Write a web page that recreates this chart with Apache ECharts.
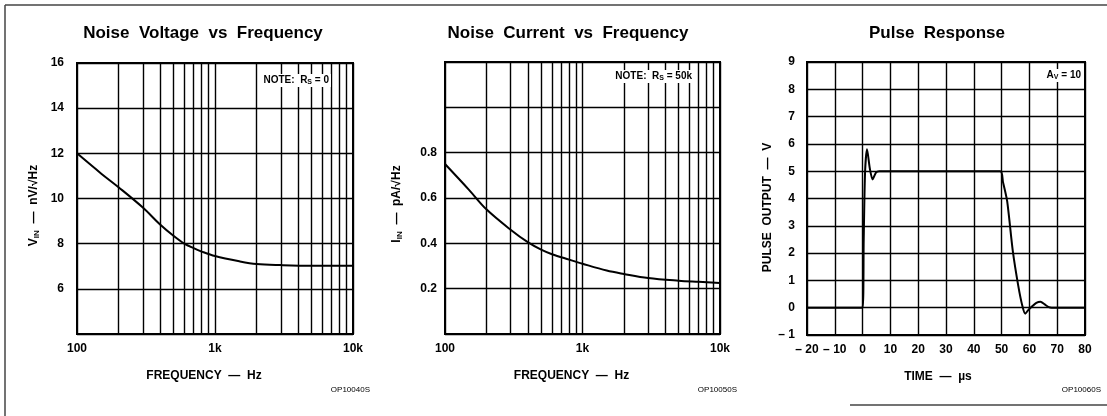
<!DOCTYPE html>
<html><head><meta charset="utf-8">
<script src="https://cdn.jsdelivr.net/npm/echarts@6/dist/echarts.min.js"></script>
<style>html,body{margin:0;padding:0;background:#fff}#c{width:1107px;height:416px}</style>
</head><body><div id="c"></div><script>
// ---- data ----
const freqV = [100, 150, 200, 300, 400, 500, 600, 700, 800, 1000, 1500, 2000, 3000, 5000, 10000];
const noiseV = [12.0, 11.1, 10.5, 9.6, 8.85, 8.35, 8.0, 7.8, 7.65, 7.45, 7.22, 7.1, 7.05, 7.02, 7.02];
const freqI = [100, 150, 200, 300, 400, 500, 600, 800, 1000, 1500, 2000, 3000, 5000, 7000, 10000];
const noiseI = [0.75, 0.635, 0.55, 0.46, 0.405, 0.372, 0.352, 0.328, 0.31, 0.28, 0.265, 0.247, 0.235, 0.23, 0.225];
const pulseT = [-20, 0, 0.4, 0.9, 1.6, 2.6, 3.6, 4.8, 6, 49.5, 50.5, 52, 54, 56, 57.5, 58.5, 59.5, 61, 62.5, 64, 65.5, 67, 68, 80];
const pulseV = [0, 0, 2.5, 5.0, 5.8, 5.1, 4.7, 4.95, 5.0, 5.0, 4.6, 3.9, 2.1, 0.8, 0.05, -0.22, -0.1, 0.05, 0.18, 0.22, 0.12, 0.02, 0, 0];
const minorFreqs = [200, 300, 400, 500, 600, 700, 800, 900, 2000, 3000, 4000, 5000, 6000, 7000, 8000, 9000];
const freqTickLabels = {100: '100', 1000: '1k', 10000: '10k'};
const titles = ['Noise  Voltage  vs  Frequency', 'Noise  Current  vs  Frequency', 'Pulse  Response'];
const codes = ['OP10040S', 'OP10050S', 'OP10060S'];

const FONT = 'Liberation Sans';
const zip = (a, b) => a.map((v, i) => [v, b[i]]);
const gridLine = {show: true, lineStyle: {color: '#000', width: 1.4}};
const labelStyle = {color: '#000', fontFamily: FONT, fontWeight: 'bold', fontSize: 12};
const nameStyle = {color: '#000', fontFamily: FONT, fontWeight: 'bold', fontSize: 12};
const subRich = {
  n: {fontFamily: FONT, fontWeight: 'bold', fontSize: 12, color: '#000'},
  s: {fontFamily: FONT, fontWeight: 'bold', fontSize: 8, color: '#000', padding: [6, 0, 0, 0]}
};
const noteRich = {
  n: {fontFamily: FONT, fontWeight: 'bold', fontSize: 10, color: '#000'},
  s: {fontFamily: FONT, fontWeight: 'bold', fontSize: 7, color: '#000', padding: [5, 0, 0, 0]}
};
const minorMarks = {
  silent: true, symbol: 'none', label: {show: false},
  lineStyle: {color: '#000', width: 1.4, type: 'solid'},
  animation: false,
  data: minorFreqs.map(f => ({xAxis: f}))
};
const freqFmt = v => freqTickLabels[Math.round(v)] || '';

const option = {
  animation: false,
  backgroundColor: '#fff',
  title: [
    {text: titles[0], left: 203, top: 25, textAlign: 'center', padding: 0, textStyle: {fontFamily: FONT, fontWeight: 'bold', fontSize: 17, color: '#000'}},
    {text: titles[1], left: 568, top: 25, textAlign: 'center', padding: 0, textStyle: {fontFamily: FONT, fontWeight: 'bold', fontSize: 17, color: '#000'}},
    {text: titles[2], left: 937, top: 25, textAlign: 'center', padding: 0, textStyle: {fontFamily: FONT, fontWeight: 'bold', fontSize: 17, color: '#000'}},
    {text: codes[0], left: 370, top: 386, textAlign: 'right', padding: 0, textStyle: {fontFamily: FONT, fontSize: 8, color: '#000', fontWeight: 'normal'}},
    {text: codes[1], left: 737, top: 386, textAlign: 'right', padding: 0, textStyle: {fontFamily: FONT, fontSize: 8, color: '#000', fontWeight: 'normal'}},
    {text: codes[2], left: 1101, top: 386, textAlign: 'right', padding: 0, textStyle: {fontFamily: FONT, fontSize: 8, color: '#000', fontWeight: 'normal'}},
    {text: '{n|NOTE:  R}{s|S}{n| = 0}', left: 326, top: 73, textAlign: 'right', padding: [1, 2, 1, 3], backgroundColor: '#fff', textStyle: {rich: noteRich}},
    {text: '{n|NOTE:  R}{s|S}{n| = 50k}', left: 689, top: 69, textAlign: 'right', padding: [1, 2, 1, 3], backgroundColor: '#fff', textStyle: {rich: noteRich}},
    {text: '{n|A}{s|V}{n| = 10}', left: 1078, top: 68, textAlign: 'right', padding: [1, 2, 1, 3], backgroundColor: '#fff', textStyle: {rich: noteRich}}
  ],
  grid: [
    {left: 77, right: 754, top: 63, bottom: 82, show: true, borderColor: '#000', borderWidth: 2, backgroundColor: 'transparent', containLabel: false},
    {left: 445, right: 387, top: 62, bottom: 82, show: true, borderColor: '#000', borderWidth: 2, backgroundColor: 'transparent', containLabel: false},
    {left: 807, right: 22, top: 62, bottom: 81, show: true, borderColor: '#000', borderWidth: 2, backgroundColor: 'transparent', containLabel: false}
  ],
  xAxis: [
    {gridIndex: 0, type: 'log', logBase: 10, min: 100, max: 10000,
     axisLine: {show: false}, axisTick: {show: false}, splitLine: gridLine,
     axisLabel: Object.assign({formatter: freqFmt, margin: 9}, labelStyle),
     name: 'FREQUENCY  —  Hz', nameLocation: 'middle', nameGap: 36, nameTextStyle: Object.assign({padding: [0, 22, 0, 0]}, nameStyle)},
    {gridIndex: 1, type: 'log', logBase: 10, min: 100, max: 10000,
     axisLine: {show: false}, axisTick: {show: false}, splitLine: gridLine,
     axisLabel: Object.assign({formatter: freqFmt, margin: 9}, labelStyle),
     name: 'FREQUENCY  —  Hz', nameLocation: 'middle', nameGap: 36, nameTextStyle: Object.assign({padding: [0, 22, 0, 0]}, nameStyle)},
    {gridIndex: 2, type: 'value', min: -20, max: 80, interval: 10,
     axisLine: {show: false}, axisTick: {show: false}, splitLine: gridLine,
     axisLabel: Object.assign({formatter: v => v < 0 ? '– ' + Math.abs(v) : String(v), margin: 9}, labelStyle),
     name: 'TIME  —  µs', nameLocation: 'middle', nameGap: 36, nameTextStyle: Object.assign({padding: [0, 16, 0, 0]}, nameStyle)}
  ],
  yAxis: [
    {gridIndex: 0, type: 'value', min: 4, max: 16, interval: 2,
     axisLine: {show: false}, axisTick: {show: false}, splitLine: gridLine,
     axisLabel: Object.assign({formatter: v => v === 4 ? '' : String(v), margin: 13}, labelStyle),
     name: '{n|V}{s|IN}{n|  —  nV/√Hz}', nameLocation: 'middle', nameGap: 36, nameTextStyle: {rich: subRich, padding: [0, 14, 0, 0]}},
    {gridIndex: 1, type: 'value', min: 0, max: 1.2, interval: 0.2,
     axisLine: {show: false}, axisTick: {show: false}, splitLine: gridLine,
     axisLabel: Object.assign({formatter: v => { const r = Math.round(v * 10) / 10; return (r >= 0.2 && r <= 0.8) ? r.toFixed(1) : ''; }, margin: 8}, labelStyle),
     name: '{n|I}{s|IN}{n|  —  pA/√Hz}', nameLocation: 'middle', nameGap: 41, nameTextStyle: {rich: subRich, padding: [0, 12, 0, 0]}},
    {gridIndex: 2, type: 'value', min: -1, max: 9, interval: 1,
     axisLine: {show: false}, axisTick: {show: false}, splitLine: gridLine,
     axisLabel: Object.assign({formatter: v => v < 0 ? '– ' + Math.abs(v) : String(v), margin: 12}, labelStyle),
     name: 'PULSE  OUTPUT  —  V', nameLocation: 'middle', nameGap: 33, nameTextStyle: Object.assign({padding: [0, 18, 0, 0]}, nameStyle)}
  ],
  series: [
    {type: 'line', xAxisIndex: 0, yAxisIndex: 0, data: zip(freqV, noiseV), smooth: 0.35, showSymbol: false, symbol: 'none',
     lineStyle: {color: '#000', width: 2}, markLine: minorMarks, z: 5},
    {type: 'line', xAxisIndex: 1, yAxisIndex: 1, data: zip(freqI, noiseI), smooth: 0.35, showSymbol: false, symbol: 'none',
     lineStyle: {color: '#000', width: 2}, markLine: minorMarks, z: 5},
    {type: 'line', xAxisIndex: 2, yAxisIndex: 2, data: zip(pulseT, pulseV), smooth: 0.25, showSymbol: false, symbol: 'none',
     lineStyle: {color: '#000', width: 2}, z: 5}
  ],
  graphic: [
    {type: 'line', shape: {x1: 5, y1: 5, x2: 1107, y2: 5}, style: {stroke: '#444', lineWidth: 1.5}, silent: true},
    {type: 'line', shape: {x1: 5, y1: 5, x2: 5, y2: 416}, style: {stroke: '#444', lineWidth: 1.5}, silent: true},
    {type: 'line', shape: {x1: 850, y1: 405, x2: 1107, y2: 405}, style: {stroke: '#444', lineWidth: 1.5}, silent: true}
  ]
};
const chart = echarts.init(document.getElementById('c'), null, {renderer: 'canvas'});
chart.setOption(option);
</script></body></html>
